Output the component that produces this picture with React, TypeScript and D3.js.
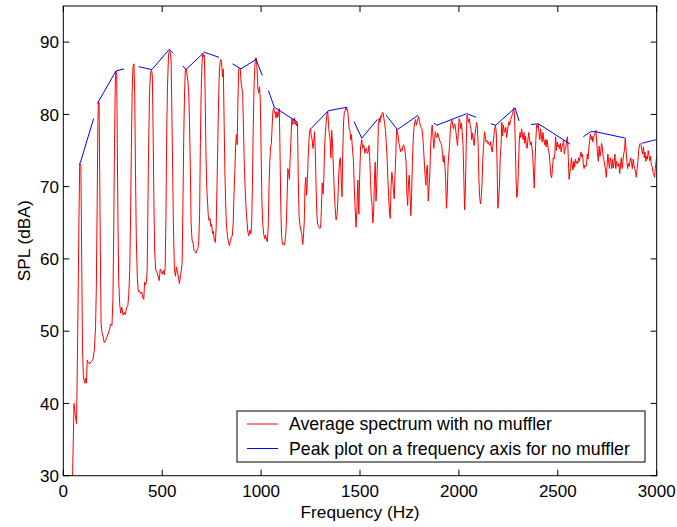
import React from "react";
import * as d3 from "d3";

// ---------- data ----------
const xTicks = [0, 500, 1000, 1500, 2000, 2500, 3000];
const yTicks = [30, 40, 50, 60, 70, 80, 90];
const legendLabels = [
  "Average spectrum with no muffler",
  "Peak plot on a frequency axis for no muffler",
];

// Average spectrum [Hz, dBA], split into bands
const band0: [number, number][] = [
  [47, 30], [54, 40], [60, 38.5], [67, 37.2], [73, 50], [79, 65], [83, 73.3], [89, 72.8], [93, 60], [97, 48],
  [101, 44], [105, 43.2], [109, 42.8], [113, 43.5], [117, 42.8], [121, 46], [127, 45.6], [134, 45.5], [141, 45.8],
  [149, 46], [157, 47.4], [163, 50.5], [167, 56], [171, 67], [175, 79], [178, 81.8], [181, 81.5], [184, 72],
  [187, 62], [191, 51], [196, 49.8], [202, 49.2], [207, 48.4], [213, 48.6], [219, 49.1], [226, 49.6], [233, 50.2],
  [240, 51], [246, 50.8], [251, 54.5], [255, 64], [259, 76], [263, 84.5], [266, 86], [270, 85.4], [273, 76],
  [276, 66], [280, 57], [285, 53.8], [290, 52.5], [296, 53.3], [302, 52.2], [308, 52.6], [314, 52.3], [320, 53.3],
  [326, 53.5], [331, 55], [336, 58.5], [340, 66], [344, 75], [348, 83], [352, 86.5], [357, 87], [361, 83],
  [365, 72], [369, 63], [374, 57.5], [379, 55.5], [385, 55.6], [391, 55.2], [397, 55.4], [402, 54.6], [407, 54.4],
  [411, 56.8], [416, 56.4], [421, 56.9], [424, 58.5], [427, 65], [431, 75], [436, 83], [441, 85.8], [446, 86.1],
  [450, 85.5], [454, 78], [458, 68], [462, 61], [467, 58.5], [473, 58.2], [479, 57.6], [485, 57], [490, 58.6],
  [495, 58.3], [500, 57.9], [506, 58.4], [511, 57.8], [515, 58.8],
];
const band500: [number, number][] = [
  [519, 66], [523, 78], [527, 84], [532, 88.3], [537, 88.8], [541, 88.5], [545, 87.5], [549, 80], [553, 72],
  [557, 64], [562, 58.5], [567, 57.6], [572, 58.9], [577, 58.2], [582, 57.5], [587, 56.6], [592, 57.6], [597, 58.5],
  [601, 59.5], [605, 68], [609, 77], [613, 83], [617, 86.2], [621, 86.3], [625, 85.6], [630, 84.6], [634, 83],
  [638, 79], [642, 73], [646, 65], [651, 62.6], [656, 62.2], [661, 61.2], [666, 61], [671, 60.8], [676, 61.2],
  [681, 61.5], [685, 62.5], [689, 66], [693, 76], [697, 83], [701, 87], [705, 88.4], [709, 88], [713, 88.2],
  [717, 83], [721, 75], [725, 70], [729, 68], [733, 66], [737, 65.3], [742, 65.6], [746, 64.5], [750, 64.8],
  [754, 63.5], [759, 63.8], [764, 62.5], [769, 62.3], [773, 64.5], [777, 70], [781, 76], [785, 82], [789, 86],
  [793, 87.2], [797, 87.6], [801, 86.8], [805, 85.2], [809, 86.3], [813, 79], [817, 72], [821, 67.5], [825, 64.5],
  [830, 63.2], [835, 62.3], [840, 61.8], [845, 62.5], [850, 63], [855, 63.3], [859, 65], [863, 69], [867, 71.8],
  [871, 75.5], [875, 77.2], [879, 75.8], [883, 82], [887, 86.3], [891, 86.4], [895, 86.2], [899, 84.5], [903, 83.6],
  [907, 83], [911, 78], [915, 73], [919, 70], [923, 67.5], [928, 65.5], [933, 63.7], [938, 63.2], [943, 64],
  [948, 63.5], [952, 64.5], [956, 70], [960, 78], [964, 83.5], [968, 86.5], [972, 87.8], [976, 87.8], [980, 86],
  [984, 83.5], [988, 83], [992, 83.8], [996, 82], [1000, 75], [1004, 68],
];
const band1000: [number, number][] = [
  [1008, 65], [1013, 63.5], [1018, 62.8], [1023, 63.3], [1028, 62.5], [1032, 62.4], [1036, 64.5], [1040, 70],
  [1044, 73.5], [1048, 75.5], [1052, 76], [1056, 78.5], [1060, 80.5], [1064, 80.9], [1068, 80.2], [1072, 80.3],
  [1076, 79.5], [1080, 80.4], [1084, 79.6], [1088, 80.2], [1092, 80.8], [1095, 76], [1099, 68], [1103, 63.5],
  [1108, 62], [1113, 62.1], [1118, 61.9], [1123, 62.8], [1127, 64.5], [1131, 68], [1135, 72.5], [1139, 72],
  [1143, 71], [1147, 74], [1151, 76.5], [1155, 79.4], [1160, 78.6], [1164, 79], [1168, 79.5], [1172, 78.6],
  [1176, 79], [1180, 78.4], [1184, 78.8], [1188, 71], [1192, 66], [1196, 64.7], [1201, 64], [1206, 63.4],
  [1210, 62], [1214, 63], [1218, 65], [1222, 70], [1226, 71.3], [1230, 68.8], [1234, 71], [1238, 74], [1242, 76.5],
  [1246, 77.8], [1250, 78], [1254, 77], [1258, 76.5], [1262, 75.3], [1266, 76], [1270, 77.6], [1274, 75], [1278, 70],
  [1282, 66], [1286, 64.8], [1291, 64.5], [1296, 64.2], [1301, 64.3], [1305, 67], [1309, 70.5], [1313, 69],
  [1317, 71], [1321, 75.5], [1325, 77.5], [1329, 79], [1333, 80], [1337, 80.4], [1341, 78.5], [1345, 77.2],
  [1349, 76.6], [1353, 74], [1357, 77.8], [1361, 76], [1365, 73], [1369, 70], [1374, 67.2], [1379, 65.4],
  [1384, 66], [1389, 68.6], [1393, 72], [1397, 73.6], [1401, 74], [1405, 71], [1409, 68.6], [1413, 75],
  [1417, 79], [1421, 80.3], [1425, 80.5], [1429, 81], [1433, 80.6], [1437, 80.7], [1441, 79.5], [1445, 78],
  [1449, 77.8], [1453, 76.5], [1457, 77.2], [1461, 75.5], [1467, 73.6], [1471, 70], [1475, 67.2], [1480, 64.4],
  [1484, 66.5], [1489, 70.9], [1494, 66.2], [1498, 71], [1503, 75.5],
];
const band1500: [number, number][] = [
  [1509, 76.5], [1513, 75.3], [1517, 75.8], [1521, 75.6], [1525, 74.6], [1529, 75.2], [1533, 75.3], [1537, 74.6],
  [1541, 74.8], [1545, 75.7], [1549, 74], [1553, 71], [1557, 68.5], [1561, 67.4], [1565, 65], [1569, 66.5],
  [1573, 71], [1577, 73.4], [1581, 68], [1585, 70.5], [1589, 74], [1593, 78.5], [1597, 79.5], [1601, 78.9],
  [1605, 79.8], [1609, 79.6], [1613, 80.3], [1617, 80.2], [1621, 79.4], [1625, 78.7], [1629, 77.8], [1633, 76],
  [1637, 74], [1641, 71], [1645, 68.5], [1649, 66.5], [1653, 65.6], [1657, 70], [1661, 72], [1665, 71.1],
  [1669, 69.5], [1673, 68.3], [1677, 71.5], [1681, 74.5], [1685, 78], [1689, 77.5], [1693, 77], [1697, 76],
  [1701, 75.5], [1705, 74.8], [1709, 75.2], [1713, 75], [1717, 75.6], [1721, 75.8], [1725, 75.3], [1729, 74.5],
  [1733, 73.4], [1737, 69], [1741, 67.4], [1745, 70.5], [1749, 71.6], [1753, 68.8], [1757, 66], [1761, 69],
  [1765, 73.4], [1769, 76.5], [1773, 78.2], [1777, 78.9], [1781, 79.3], [1785, 78.5], [1789, 79], [1793, 79.4],
  [1797, 79.7], [1801, 79], [1805, 78.5], [1809, 78.2], [1813, 78], [1817, 77], [1821, 75.5], [1825, 73.4],
  [1829, 71.5], [1833, 70.2], [1837, 72.5], [1841, 73], [1845, 68], [1849, 70], [1853, 71.6], [1857, 75.5],
  [1861, 77.5], [1865, 78.5], [1869, 77], [1873, 75.3], [1877, 76.5], [1881, 77.6], [1885, 77], [1889, 76.8],
  [1893, 77.4], [1897, 77], [1901, 76.6], [1905, 76.2], [1909, 76], [1913, 75.7], [1917, 74.5], [1921, 73.4],
  [1925, 74.3], [1929, 73], [1933, 71.1], [1937, 67], [1941, 69], [1945, 72.9], [1949, 74.5], [1953, 75.7],
  [1957, 78], [1961, 78.9], [1965, 79.2], [1969, 78.5], [1973, 78], [1977, 78.7], [1981, 78.5], [1985, 77.6],
  [1989, 76.5], [1993, 75.7], [1997, 77.5],
];
const band2000: [number, number][] = [
  [2001, 79.4], [2005, 79], [2009, 78], [2013, 78.8], [2017, 77.5], [2021, 75.7], [2025, 71], [2029, 66.8],
  [2033, 70], [2037, 75.7], [2041, 79.9], [2045, 79.5], [2049, 78.9], [2053, 79.4], [2057, 78.5], [2061, 78],
  [2065, 76.5], [2069, 77.4], [2073, 76.5], [2077, 75.7], [2081, 77], [2085, 78], [2089, 78.9], [2093, 78.5],
  [2097, 76], [2101, 71.1], [2105, 68.5], [2109, 67.6], [2113, 68.5], [2117, 70.5], [2121, 74], [2125, 75.7],
  [2129, 77.6], [2133, 77], [2137, 76.2], [2141, 76.4], [2145, 76], [2149, 76.2], [2153, 75.8], [2157, 75.7],
  [2161, 76.2], [2165, 75], [2169, 74.8], [2173, 76], [2177, 77.1], [2181, 78], [2185, 78.5], [2189, 77.5],
  [2193, 73], [2197, 67], [2201, 68.5], [2205, 70], [2209, 74], [2213, 75.7], [2217, 78.9], [2221, 77],
  [2225, 78.5], [2229, 77.8], [2233, 77.5], [2237, 78.2], [2241, 76.8], [2245, 77.5], [2249, 78.5], [2253, 79],
  [2257, 78.5], [2261, 79.3], [2265, 79.5], [2269, 79.9], [2273, 80.3], [2277, 80.9], [2281, 80], [2285, 76],
  [2289, 71], [2293, 68.5], [2297, 69.5], [2301, 72.5], [2305, 76.2], [2309, 77.5], [2313, 76.8], [2317, 78],
  [2321, 77.2], [2325, 76.5], [2329, 77.5], [2333, 76], [2337, 77], [2341, 75.5], [2345, 75.3], [2349, 76.5],
  [2353, 77.5], [2357, 76.5], [2361, 75.8], [2365, 76.2], [2369, 75.5], [2373, 74.5], [2377, 72], [2381, 69.8],
  [2385, 73.5], [2389, 76.5], [2393, 78.5], [2397, 78.2], [2401, 78.7], [2405, 77.5], [2409, 76.5], [2413, 78],
  [2417, 77], [2421, 76.2], [2425, 77.5], [2429, 76.5], [2433, 75.8], [2437, 76.5], [2441, 75.5], [2445, 76.5],
  [2449, 75.8], [2453, 75], [2457, 74.5], [2461, 73], [2465, 71.5], [2469, 71.2], [2473, 72.5], [2477, 74],
  [2481, 73.8], [2485, 74.5],
];
const band2500: [number, number][] = [
  [2489, 76.9], [2493, 75], [2497, 76.2], [2501, 75.5], [2505, 75.8], [2509, 75.2], [2513, 76], [2517, 74.8],
  [2521, 75.5], [2525, 75.8], [2529, 76.4], [2533, 74.5], [2537, 75.2], [2541, 75.5], [2545, 76.5], [2549, 76.9],
  [2553, 74], [2557, 71], [2561, 72], [2565, 72.5], [2569, 74], [2573, 73], [2577, 72.3], [2581, 73.5],
  [2585, 72.7], [2589, 73.8], [2593, 73.2], [2597, 73.5], [2601, 73.2], [2605, 74], [2609, 73.5], [2613, 74.2],
  [2617, 74.8], [2621, 74.1], [2625, 74.5], [2629, 73.2], [2633, 72.5], [2637, 73], [2641, 72.8], [2645, 73],
  [2649, 74.5], [2653, 73.8], [2657, 75.2], [2661, 76.5], [2665, 77.3], [2669, 76.5], [2673, 77], [2677, 76.2],
  [2681, 76.8], [2685, 77.1], [2689, 77.5], [2693, 77.8], [2697, 76], [2701, 74.5], [2705, 73.5], [2709, 75.6],
  [2713, 74.2], [2717, 74.8], [2721, 76], [2725, 75.5], [2729, 74.2], [2733, 73.8], [2737, 73], [2741, 72.5],
  [2745, 71.3], [2749, 72.8], [2753, 74.5], [2757, 73.5], [2761, 72.5], [2765, 74], [2769, 73.5], [2773, 72.5],
  [2777, 73.8], [2781, 72.6], [2785, 73.5], [2789, 74.5], [2793, 72.5], [2797, 73.5], [2801, 73], [2805, 72.8],
  [2809, 73.2], [2813, 71.8], [2817, 73], [2821, 74], [2825, 72.5], [2829, 73.5], [2833, 74.5], [2837, 75],
  [2841, 76.6], [2845, 75.2], [2849, 73.5], [2853, 72.5], [2857, 73.2], [2861, 72.8], [2865, 73.5], [2869, 74],
  [2873, 73.2], [2877, 72.5], [2881, 73.8], [2885, 73], [2889, 72.5], [2893, 72], [2897, 71.3], [2901, 72.5],
  [2905, 73.5], [2909, 75], [2913, 75.8], [2917, 76], [2921, 75.8], [2925, 75], [2929, 74.5], [2933, 75.5],
  [2937, 74], [2941, 74.8], [2945, 73.5], [2949, 74.2], [2953, 73.8], [2957, 75], [2961, 74.3], [2965, 73.6],
  [2969, 74.2], [2973, 73], [2977, 72.8], [2981, 72], [2985, 71.8], [2989, 71.3], [2993, 72.5], [2997, 73.5],
  [3000, 74.2],
];
const spectrum = [...band0, ...band500, ...band1000, ...band1500, ...band2000, ...band2500];

// Peak plot: segments of [Hz, dBA]
const peakSegments: [number, number][][] = [
  [[86, 73.3], [153, 79.4]],
  [[172, 81.5], [266, 86.0], [307, 86.3]],
  [[381, 86.6], [448, 86.2], [536, 89.0], [553, 88.5]],
  [[605, 86.7], [620, 86.2], [713, 88.6], [787, 87.9]],
  [[855, 87.0], [898, 86.3], [974, 87.6], [1006, 85.4]],
  [[1037, 83.3], [1067, 81.0], [1185, 78.9]],
  [[1251, 78.0], [1340, 80.5], [1436, 81.0]],
  [[1470, 79.0], [1509, 76.7], [1588, 79.3]],
  [[1632, 79.9], [1689, 77.9], [1795, 79.9]],
  [[1874, 78.8], [1888, 78.5], [2040, 80.1], [2087, 79.6]],
  [[2161, 78.7], [2186, 78.5], [2284, 80.9], [2304, 79.1]],
  [[2365, 78.6], [2402, 78.7], [2562, 75.9]],
  [[2629, 76.9], [2665, 77.6], [2692, 77.6], [2844, 76.7]],
  [[2925, 76.0], [3010, 76.6]],
];

// ---------- layout ----------
const W = 677;
const H = 527;
const left = 63.3;
const right = 656.7;
const top = 6;
const bottom = 475.7;
const FONT = "Arial, 'Liberation Sans', Helvetica, sans-serif";

export default function App() {
  const x = d3.scaleLinear().domain([0, 3000]).range([left, right]);
  const y = d3.scaleLinear().domain([30, 95]).range([bottom, top]);
  const line = d3
    .line<[number, number]>()
    .x((d) => x(d[0]))
    .y((d) => y(d[1]));

  const tickLen = 6;
  const legX = 237;
  const legY = 411;
  const legW = 408;
  const legH = 51;

  return (
    <svg
      width={W}
      height={H}
      style={{ position: "absolute", left: 0, top: 0, background: "#fff" }}
      fontFamily={FONT}
    >
      <rect x={0} y={0} width={W} height={H} fill="#fff" />
      <defs>
        <clipPath id="plotClip">
          <rect x={left} y={top} width={right - left} height={bottom - top} />
        </clipPath>
      </defs>
      <g clipPath="url(#plotClip)">
        <path d={line(spectrum) ?? ""} fill="none" stroke="#ff0000" strokeWidth={1} strokeLinejoin="round" />
        {peakSegments.map((seg, i) => (
          <path key={i} d={line(seg) ?? ""} fill="none" stroke="#0000ff" strokeWidth={1} />
        ))}
      </g>
      {/* axes box */}
      <rect x={left} y={top} width={right - left} height={bottom - top} fill="none" stroke="#000" strokeWidth={1} />
      {/* x ticks */}
      {xTicks.map((t) => (
        <g key={"x" + t}>
          <line x1={x(t)} x2={x(t)} y1={bottom} y2={bottom - tickLen} stroke="#000" />
          <line x1={x(t)} x2={x(t)} y1={top} y2={top + tickLen} stroke="#000" />
          <text x={x(t)} y={497} textAnchor="middle" fontSize={17} fill="#000">
            {t}
          </text>
        </g>
      ))}
      {/* y ticks */}
      {yTicks.map((t) => (
        <g key={"y" + t}>
          <line x1={left} x2={left + tickLen} y1={y(t)} y2={y(t)} stroke="#000" />
          <line x1={right} x2={right - tickLen} y1={y(t)} y2={y(t)} stroke="#000" />
          <text x={59} y={y(t)} dy="0.36em" textAnchor="end" fontSize={17} fill="#000">
            {t}
          </text>
        </g>
      ))}
      {/* axis labels */}
      <text x={(left + right) / 2} y={518} textAnchor="middle" fontSize={17.3} fill="#000">
        Frequency (Hz)
      </text>
      <text
        transform={`translate(30, ${(top + bottom) / 2}) rotate(-90)`}
        textAnchor="middle"
        fontSize={17.3}
        fill="#000"
      >
        SPL (dBA)
      </text>
      {/* legend */}
      <rect x={legX} y={legY} width={legW} height={legH} fill="#fff" stroke="#000" strokeWidth={1} />
      {legendLabels.map((lab, i) => {
        const cy = legY + 13 + i * 24.5;
        return (
          <g key={lab}>
            <line x1={247} x2={278} y1={cy} y2={cy} stroke={i === 0 ? "#ff0000" : "#0000ff"} strokeWidth={1} />
            <text x={289} y={cy} dy="0.36em" fontSize={17.7} fill="#000">
              {lab}
            </text>
          </g>
        );
      })}
    </svg>
  );
}
